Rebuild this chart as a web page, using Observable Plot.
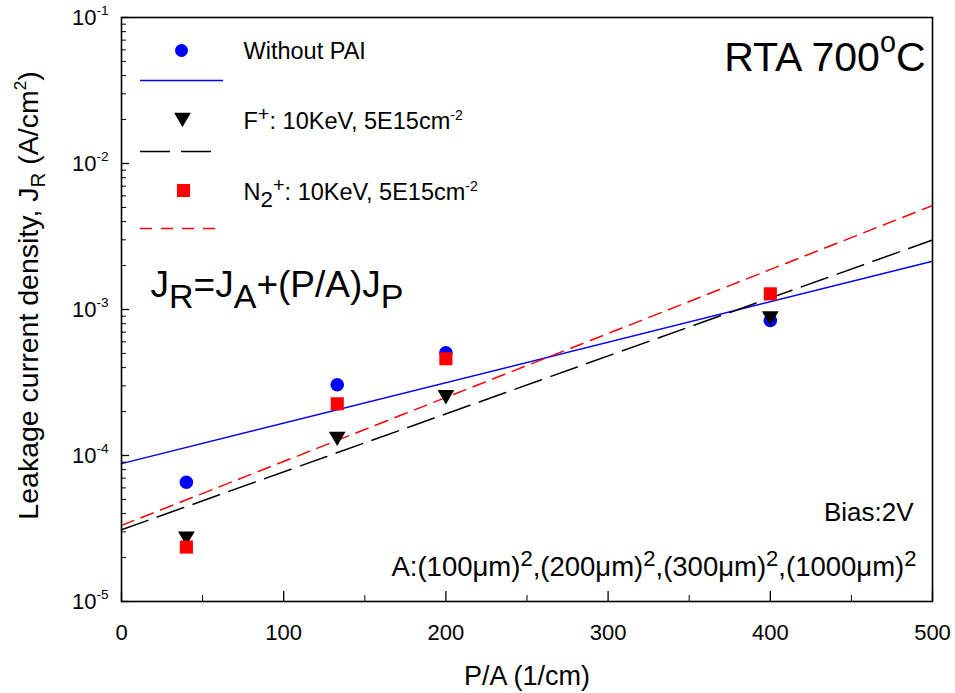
<!DOCTYPE html>
<html>
<head>
<meta charset="utf-8">
<script src="https://cdn.jsdelivr.net/npm/d3@7"></script>
<script src="https://cdn.jsdelivr.net/npm/@observablehq/plot@0.6"></script>
<style>
  html, body { margin: 0; padding: 0; background: #fff; }
  svg { display: block; }
</style>
</head>
<body>
<script>
// ---- data ----
const paValues = [40, 133, 200, 400];               // P/A (1/cm)
const withoutPAI = [6.56e-5, 3.05e-4, 5.05e-4, 8.4e-4];
const fluorine   = [2.8e-5, 1.35e-4, 2.6e-4, 9.0e-4];
const nitrogen   = [2.36e-5, 2.26e-4, 4.6e-4, 1.28e-3];

const fitX = [0, 500];
const fitWithout = [8.8e-5, 2.14e-3];
const fitFluorine = [3.1e-5, 2.99e-3];
const fitNitrogen = [3.32e-5, 5.15e-3];

const seriesNames = ["Without PAI", "F^^{+}: 10KeV, 5E15cm^{-2}", "N_{2}^^{+}: 10KeV, 5E15cm^{-2}"];

const xTicks = [0, 100, 200, 300, 400, 500];
const xTickLabels = ["0", "100", "200", "300", "400", "500"];
const xMinorTicks = [50, 150, 250, 350, 450];
const yTicks = [1e-5, 1e-4, 1e-3, 1e-2, 1e-1];
const yTickLabels = ["10^{-5}", "10^{-4}", "10^{-3}", "10^{-2}", "10^{-1}"];
const minorMultipliers = [2, 3, 4, 5, 6, 7, 8, 9];
const yMinorTicks = yTicks.slice(0, -1).flatMap(d => minorMultipliers.map(m => d * m));

const xLabel = "P/A (1/cm)";
const yLabel = "Leakage current density, J_{R} (A/cm^{2})";
const titleText = "RTA 700^^{o}C";
const formulaText = "J_{R}=J_{A}+(P/A)J_{P}";
const biasText = "Bias:2V";
const areaText = "A:(100μm)^^{2},(200μm)^^{2},(300μm)^^{2},(1000μm)^^{2}";

// ---- build tables ----
const pts = (vals, s) => paValues.map((x, i) => ({x, y: vals[i], s}));
const fit = (vals, s) => fitX.map((x, i) => ({x, y: vals[i], s}));

const W = 955, H = 693;
const mL = 121, mR = 23, mT = 17, mB = 92;
const fw = W - mL - mR, fh = H - mT - mB;

const BLUE = "#0000ff", RED = "#ff0000", BLACK = "#000000";
const label = (text, opts) => Plot.text([text], {text: d => d, lineAnchor: "middle", ...opts});

const plot = Plot.plot({
  width: W, height: H,
  marginLeft: mL, marginRight: mR, marginTop: mT, marginBottom: mB,
  style: {fontFamily: "'Liberation Sans', Arial, sans-serif", color: "black", background: "white"},
  x: {domain: [0, 500]},
  y: {type: "log", domain: [1e-5, 1e-1]},
  marks: [
    // fit lines
    Plot.line(fit(fitWithout, 0), {x: "x", y: "y", stroke: BLUE, strokeWidth: 1.5}),
    Plot.line(fit(fitFluorine, 1), {x: "x", y: "y", stroke: BLACK, strokeWidth: 1.5, strokeDasharray: "28,10"}),
    Plot.line(fit(fitNitrogen, 2), {x: "x", y: "y", stroke: RED, strokeWidth: 1.5, strokeDasharray: "13,8"}),
    // data points
    Plot.dot(pts(withoutPAI, 0), {x: "x", y: "y", symbol: "circle", r: 6.8, fill: BLUE}),
    Plot.dot(pts(fluorine, 1), {x: "x", y: "y", symbol: "triangle", r: 6.2, rotate: 180, fill: BLACK}),
    Plot.dot(pts(nitrogen, 2), {x: "x", y: "y", symbol: "square", r: 7.4, fill: RED}),
    // ticks (inward)
    Plot.tickY(yTicks, {y: d => d, insetRight: fw - 8, stroke: BLACK, strokeWidth: 1.3}),
    Plot.tickY(yMinorTicks, {y: d => d, insetRight: fw - 5, stroke: BLACK, strokeWidth: 1}),
    Plot.tickX(xTicks, {x: d => d, insetTop: fh - 10, stroke: BLACK, strokeWidth: 1.3}),
    Plot.tickX(xMinorTicks, {x: d => d, insetTop: fh - 6, stroke: BLACK, strokeWidth: 1}),
    Plot.frame({stroke: BLACK, strokeWidth: 1.6}),
    // axes labels
    Plot.axisY(yTicks, {tickSize: 0, tickPadding: 13, fontSize: 22, label: null,
      tickFormat: d => yTickLabels[yTicks.indexOf(d)]}),
    Plot.axisX(xTicks, {tickSize: 0, tickPadding: 23, fontSize: 22, label: null,
      tickFormat: d => xTickLabels[xTicks.indexOf(d)]}),
    label(xLabel, {frameAnchor: "bottom", dy: 75, fontSize: 27}),
    label(yLabel, {frameAnchor: "left", textAnchor: "middle", rotate: -90, dx: -93, dy: -14, fontSize: 28.5}),
    // annotations
    label(titleText, {frameAnchor: "top-right", textAnchor: "end", dx: -7, dy: 40, fontSize: 41}),
    label(formulaText, {frameAnchor: "top-left", textAnchor: "start", dx: 29, dy: 268, fontSize: 37}),
    label(biasText, {frameAnchor: "top-right", textAnchor: "end", dx: -19, dy: 495, fontSize: 26}),
    label(areaText, {frameAnchor: "top-right", textAnchor: "end", dx: -16, dy: 550, fontSize: 27.5}),
    // legend symbols
    Plot.dot([seriesNames[0]], {frameAnchor: "top-left", dx: 60, dy: 33, symbol: "circle", r: 6.5, fill: BLUE}),
    Plot.dot([seriesNames[1]], {frameAnchor: "top-left", dx: 61, dy: 100, symbol: "triangle", r: 6.2, rotate: 180, fill: BLACK}),
    Plot.dot([seriesNames[2]], {frameAnchor: "top-left", dx: 62, dy: 173, symbol: "square", r: 7.4, fill: RED}),
    // legend texts
    label(seriesNames[0], {frameAnchor: "top-left", textAnchor: "start", dx: 122, dy: 34, fontSize: 23.5}),
    label(seriesNames[1], {frameAnchor: "top-left", textAnchor: "start", dx: 122, dy: 104, fontSize: 23.5}),
    label(seriesNames[2], {frameAnchor: "top-left", textAnchor: "start", dx: 122, dy: 175, fontSize: 23.5})
  ]
});

document.body.appendChild(plot);

// ---- legend line samples ----
const svg = d3.select(plot);
const legendLines = [
  {stroke: BLUE, dash: null, x1: 140, x2: 223, y: 80.5},
  {stroke: BLACK, dash: "30,11", x1: 140, x2: 211, y: 151.5},
  {stroke: RED, dash: "12,9", x1: 140, x2: 219, y: 228.5}
];
svg.append("g").selectAll("line").data(legendLines).join("line")
  .attr("x1", d => d.x1).attr("x2", d => d.x2).attr("y1", d => d.y).attr("y2", d => d.y)
  .attr("stroke", d => d.stroke).attr("stroke-width", 1.5)
  .attr("stroke-dasharray", d => d.dash);

// ---- rich text (super/subscripts) ----
const NS = "http://www.w3.org/2000/svg";
const richOpts = new Map([
  [titleText, {big: 0.7, bigShift: 0.45}],
  [formulaText, {sub: 0.92, subShift: 0.3}],
  [areaText, {big: 0.8, bigShift: 0.36}],
  [yLabel, {sup: 0.6, supShift: 0.42, sub: 0.72, subShift: 0.25}],
  [seriesNames[1], {sup: 0.6, supShift: 0.4, big: 0.85, bigShift: 0.36}],
  [seriesNames[2], {sup: 0.6, supShift: 0.4, big: 0.85, bigShift: 0.36, sub: 0.95, subShift: 0.3}]
]);
function richify(el) {
  const src = el.textContent;
  if (!/[\^_]\{/.test(src) && !/\^\^\{/.test(src)) return;
  const o = Object.assign({sup: 0.62, supShift: 0.42, big: 0.8, bigShift: 0.38, sub: 0.75, subShift: 0.25}, richOpts.get(src) || {});
  const fs = parseFloat(getComputedStyle(el).fontSize);
  el.textContent = "";
  let cur = 0;
  const re = /(\^\^|\^|_)\{([^}]*)\}|([^\^_]+)/g;
  let m;
  while ((m = re.exec(src))) {
    const t = document.createElementNS(NS, "tspan");
    let target;
    if (m[3] !== undefined) {
      t.textContent = m[3]; target = 0;
    } else if (m[1] === "^") {
      t.textContent = m[2]; target = -o.supShift * fs; t.setAttribute("font-size", o.sup * fs);
    } else if (m[1] === "^^") {
      t.textContent = m[2]; target = -o.bigShift * fs; t.setAttribute("font-size", o.big * fs);
    } else {
      t.textContent = m[2]; target = o.subShift * fs; t.setAttribute("font-size", o.sub * fs);
    }
    if (target !== cur) t.setAttribute("dy", (target - cur).toFixed(2));
    cur = target;
    el.appendChild(t);
  }
}
svg.selectAll("text").each(function() { richify(this); });
</script>
</body>
</html>
